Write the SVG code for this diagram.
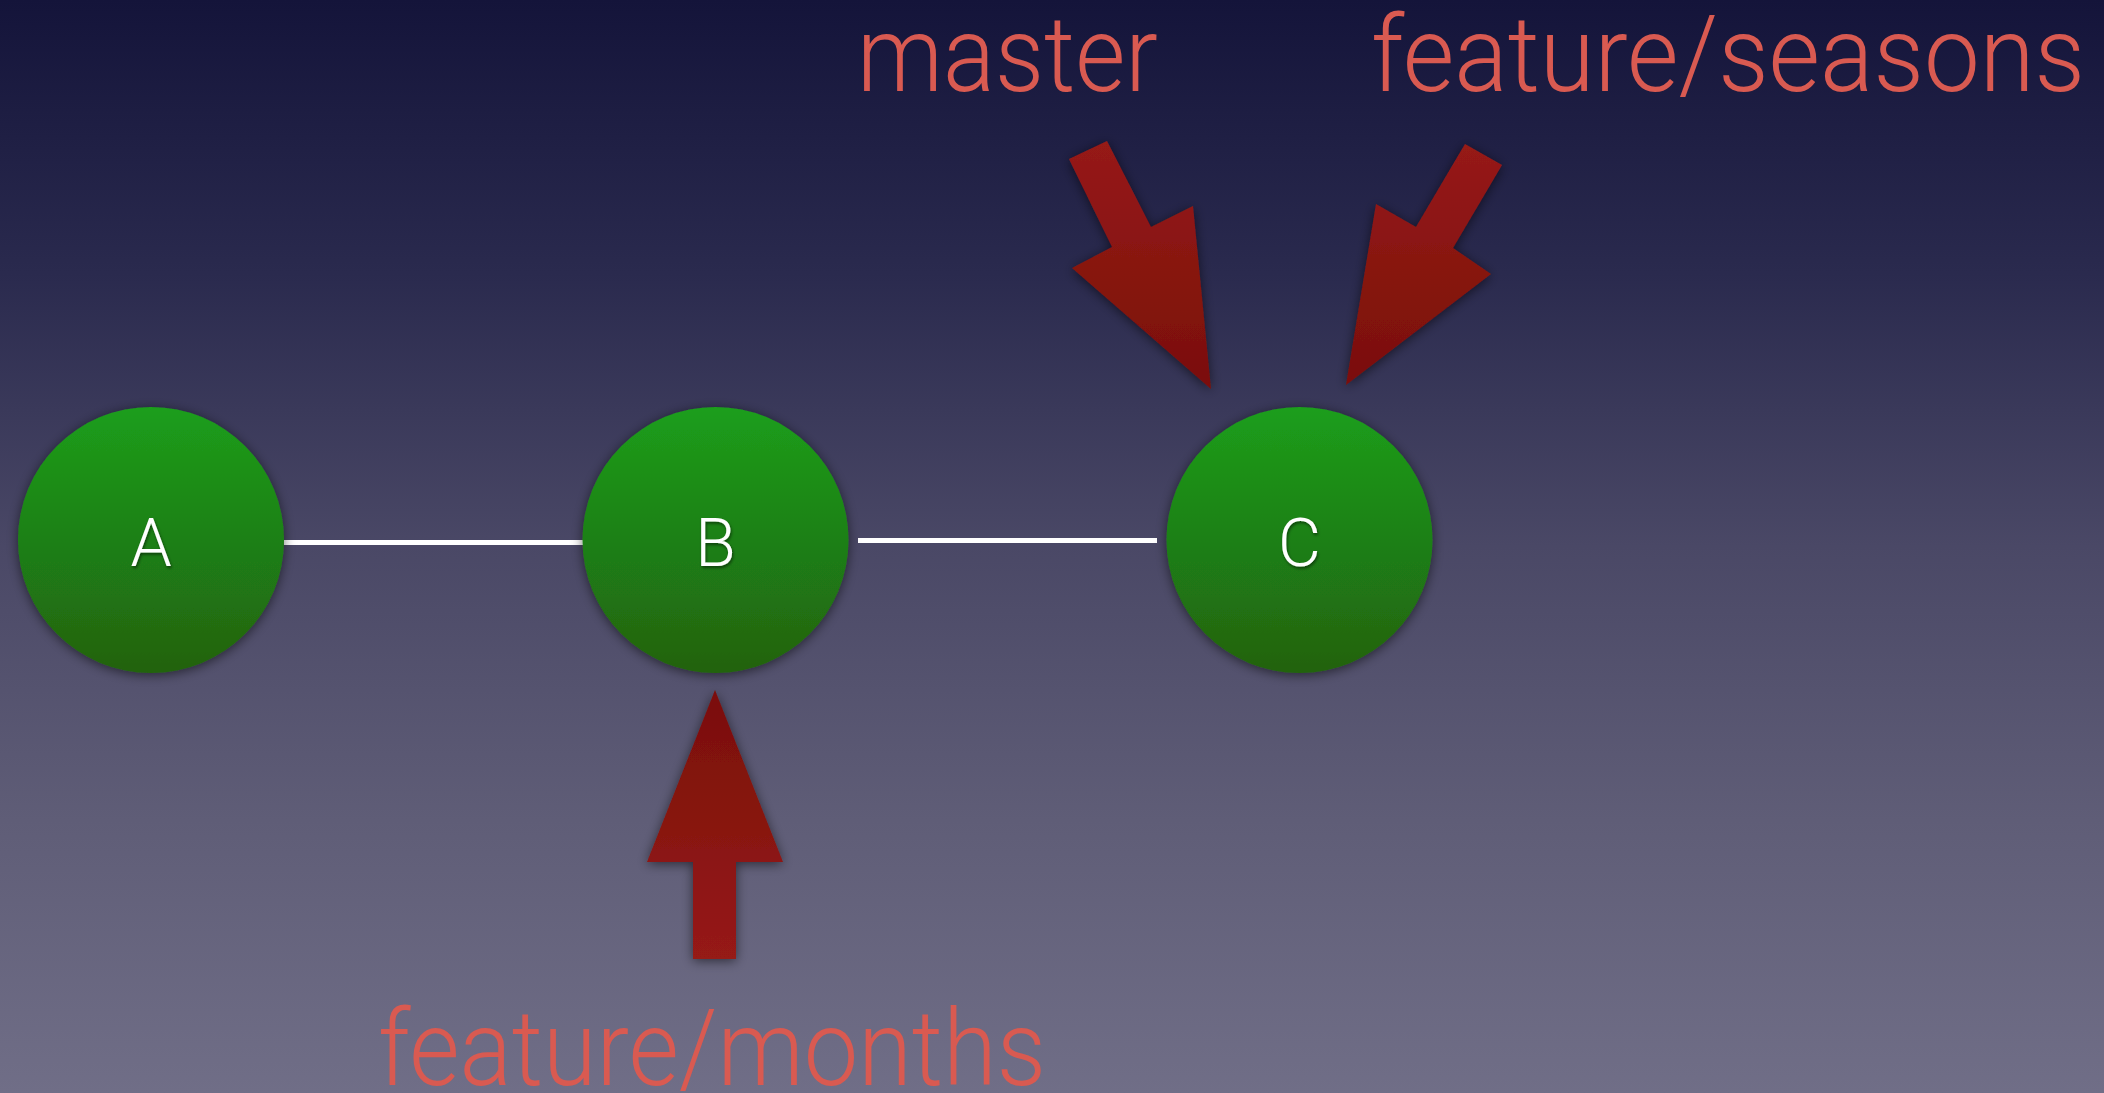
<svg xmlns="http://www.w3.org/2000/svg" width="2104" height="1093" viewBox="0 0 2104 1093">
  <defs>
    <linearGradient id="bg" x1="0" y1="0" x2="0" y2="1">
      <stop offset="0" stop-color="#14143a"/>
      <stop offset="0.25" stop-color="#2a2a4e"/>
      <stop offset="0.5" stop-color="#4a4866"/>
      <stop offset="0.75" stop-color="#5f5d77"/>
      <stop offset="1" stop-color="#706e87"/>
    </linearGradient>
    <linearGradient id="commit" x1="0" y1="0" x2="0" y2="1">
      <stop offset="0" stop-color="#1b9e1b"/>
      <stop offset="1" stop-color="#22620f"/>
    </linearGradient>
    <linearGradient id="ptr" x1="0" y1="0" x2="0" y2="1">
      <stop offset="0" stop-color="#961a18"/>
      <stop offset="1" stop-color="#7a0f09"/>
    </linearGradient>
    <linearGradient id="ptrUp" x1="0" y1="0" x2="0" y2="1">
      <stop offset="0" stop-color="#7a0f09"/>
      <stop offset="1" stop-color="#961a18"/>
    </linearGradient>
    <filter id="shadow" x="-20%" y="-20%" width="140%" height="140%">
      <feDropShadow dx="0" dy="2" stdDeviation="6" flood-color="#000" flood-opacity="0.55"/>
    </filter>
    <filter id="txtShadow" x="-20%" y="-20%" width="140%" height="140%">
      <feDropShadow dx="1" dy="2" stdDeviation="1.5" flood-color="#000" flood-opacity="0.5"/>
    </filter>
  </defs>
  <style>
    .commit { fill: url(#commit); filter: url(#shadow); }
    .commit-label { font-family: Roboto, "Liberation Sans", sans-serif; font-weight: 300; font-size: 66px; fill: #ffffff; text-anchor: middle; filter: url(#txtShadow); }
    .branch-label { font-family: Roboto, "Liberation Sans", sans-serif; font-weight: 300; font-size: 106px; fill: #d95a51; }
    .edge { stroke: #ffffff; stroke-width: 5; }
    .pointer { filter: url(#shadow); }
  </style>

  <rect width="2104" height="1093" fill="url(#bg)"/>

  <!-- history edges -->
  <g id="connectors">
    <line class="edge" x1="284" y1="542.5" x2="583" y2="542.5"/>
    <line class="edge" x1="858" y1="540.5" x2="1157" y2="540.5"/>
  </g>

  <!-- commits -->
  <g id="commit-a">
    <circle class="commit" cx="151" cy="540" r="133"/>
    <text class="commit-label" x="151" y="566">A</text>
  </g>
  <g id="commit-b">
    <circle class="commit" cx="715.5" cy="540" r="133"/>
    <text class="commit-label" x="715.5" y="566">B</text>
  </g>
  <g id="commit-c">
    <circle class="commit" cx="1299.5" cy="540" r="133"/>
    <text class="commit-label" x="1299.5" y="566">C</text>
  </g>

  <!-- branch pointers -->
  <g id="branch-master">
    <polygon class="pointer" fill="url(#ptr)" points="1069,159 1107,141 1151,227 1193,206 1211,389 1072,268 1112,247"/>
    <text class="branch-label" x="857" y="91" textLength="301" lengthAdjust="spacingAndGlyphs">master</text>
  </g>
  <g id="branch-feature-seasons">
    <polygon class="pointer" fill="url(#ptr)" points="1502,165 1465,144 1416,227 1376,204 1346,385 1491,274 1453,248"/>
    <text class="branch-label" x="1371" y="91" textLength="714" lengthAdjust="spacingAndGlyphs">feature/seasons</text>
  </g>
  <g id="branch-feature-months">
    <polygon class="pointer" fill="url(#ptrUp)" points="715,690 783,862 736,862 736,959 693,959 693,862 647,862"/>
    <text class="branch-label" x="378" y="1085" textLength="668" lengthAdjust="spacingAndGlyphs">feature/months</text>
  </g>
</svg>
